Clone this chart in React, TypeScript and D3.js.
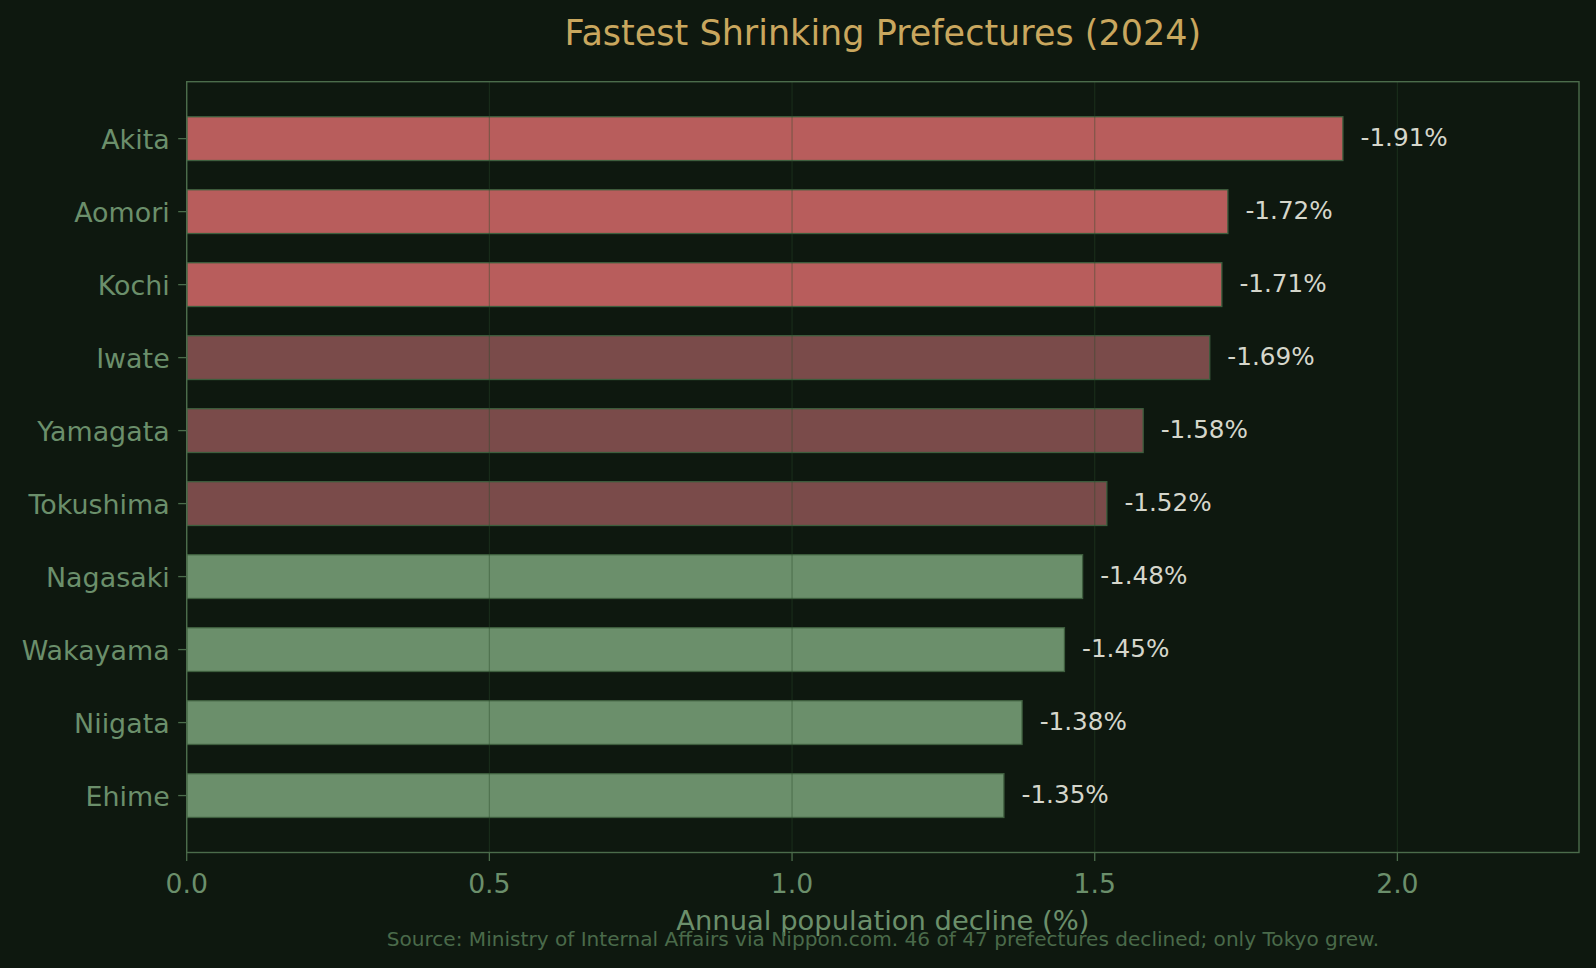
import React, { useEffect } from "react";
import * as d3 from "d3";

const categories = ["Akita", "Aomori", "Kochi", "Iwate", "Yamagata", "Tokushima", "Nagasaki", "Wakayama", "Niigata", "Ehime"];
const values = [1.91, 1.72, 1.71, 1.69, 1.58, 1.52, 1.48, 1.45, 1.38, 1.35];
const tiers = [0, 0, 0, 1, 1, 1, 2, 2, 2, 2];
const xTicks = [0, 0.5, 1.0, 1.5, 2.0];
const tierColors = ["#b85d5c", "#7a4b4a", "#6b8f6b"];

const W = 1596;
const H = 968;
const L = 186.7, R = 1579, T = 81.7, B = 852.5;
const FONT = "'DejaVu Sans', sans-serif";

export default function App() {
  useEffect(() => {
    document.body.style.margin = "0";
    document.body.style.overflow = "hidden";
  }, []);

  const x = d3.scaleLinear().domain([0, 2.3]).range([L, R]);
  const y = d3
    .scaleBand<string>()
    .domain(categories)
    .range([T, B])
    .paddingInner(0.4)
    .paddingOuter(0.48);

  const spine = "#4b6c4b";
  const tickColor = "#6b8f6b";

  return (
    <svg width={W} height={H} style={{ position: "absolute", left: 0, top: 0, display: "block" }} fontFamily={FONT}>
      <rect x={0} y={0} width={W} height={H} fill="#0e180f" />
      {categories.map((c, i) => (
        <rect
          key={c}
          x={x(0)}
          y={y(c)!}
          width={x(values[i]) - x(0)}
          height={y.bandwidth()}
          fill={tierColors[tiers[i]]}
          stroke="#3e5e3e"
          strokeWidth={1.3}
        />
      ))}
      {xTicks.map((t) => (
        <line key={"g" + t} x1={x(t)} x2={x(t)} y1={T} y2={B} stroke="#2a4a2a" strokeOpacity={0.4} strokeWidth={1.2} />
      ))}
      {categories.map((c, i) => (
        <text
          key={"v" + c}
          x={x(values[i] + 0.029)}
          y={y(c)! + y.bandwidth() / 2 + 7.5}
          fontSize={24.7}
          fill="#d5d6cb"
        >
          {`-${values[i].toFixed(2)}%`}
        </text>
      ))}
      <rect x={L} y={T} width={R - L} height={B - T} fill="none" stroke={spine} strokeWidth={1.4} />
      {categories.map((c) => {
        const cy = y(c)! + y.bandwidth() / 2;
        return (
          <g key={"yt" + c}>
            <line x1={L - 8.5} x2={L} y1={cy} y2={cy} stroke={spine} strokeWidth={1.3} />
            <text x={L - 17} y={cy + 10.5} fontSize={26.9} fill={tickColor} textAnchor="end">
              {c}
            </text>
          </g>
        );
      })}
      {xTicks.map((t) => (
        <g key={"xt" + t}>
          <line x1={x(t)} x2={x(t)} y1={B} y2={B + 8.5} stroke={spine} strokeWidth={1.3} />
          <text x={x(t)} y={892.5} fontSize={26.7} fill={tickColor} textAnchor="middle">
            {t.toFixed(1)}
          </text>
        </g>
      ))}
      <text x={(L + R) / 2} y={930} fontSize={27.4} fill={tickColor} textAnchor="middle">
        Annual population decline (%)
      </text>
      <text x={(L + R) / 2} y={945.5} fontSize={20.1} fill="#4a6a4a" textAnchor="middle">
        Source: Ministry of Internal Affairs via Nippon.com. 46 of 47 prefectures declined; only Tokyo grew.
      </text>
      <text x={(L + R) / 2} y={45} fontSize={35} fill="#c9a75e" textAnchor="middle">
        Fastest Shrinking Prefectures (2024)
      </text>
    </svg>
  );
}
